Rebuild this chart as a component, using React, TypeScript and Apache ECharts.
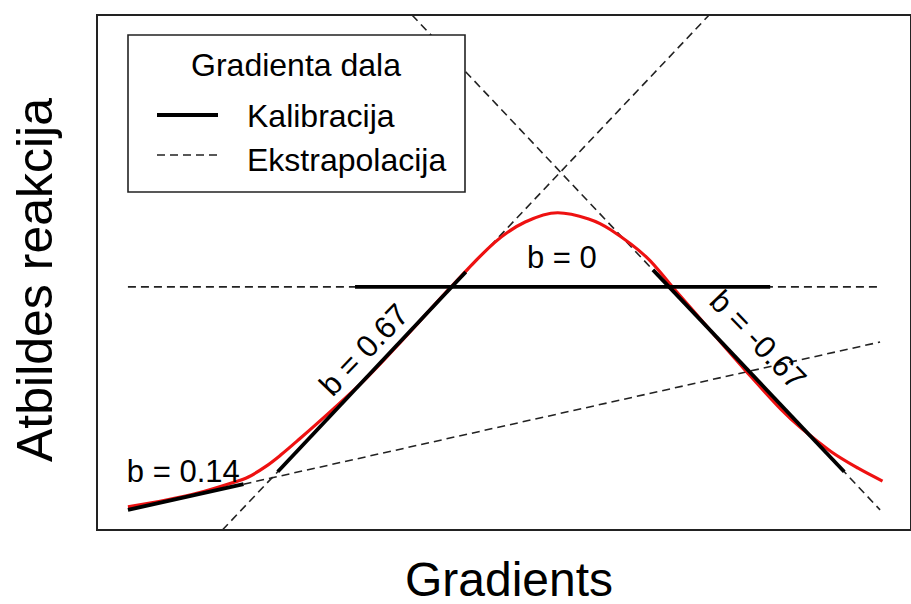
import React, { useEffect, useRef } from "react";
import * as echarts from "echarts";

// Response curve (red); axis units 0..10 on both axes
const curveX = [0.38, 0.85, 1.25, 1.65, 1.86, 2.07, 2.26, 2.46, 2.86, 3.31, 3.8, 4.35, 4.89, 5.26, 5.66, 6.04, 6.31, 6.75, 7.08, 7.56, 7.96, 8.41, 8.65, 9.02, 9.35, 9.65];
const curveY = [0.45, 0.58, 0.72, 0.91, 1.03, 1.23, 1.46, 1.73, 2.29, 2.95, 3.77, 4.72, 5.59, 5.98, 6.16, 6.04, 5.83, 5.3, 4.7, 3.83, 3.11, 2.33, 1.98, 1.52, 1.2, 0.95];

// Calibration segments (solid) and extrapolations (dashed): [x, y] pairs
const calib014 = [[0.38, 0.39], [1.8, 0.89]];
const extra014 = [[1.8, 0.89], [9.62, 3.65]];
const calib067 = [[2.22, 1.13], [4.53, 5.01]];
const extra067 = [[1.54, 0], [2.22, 1.13], [4.53, 5.01], [7.52, 10]];
const calib0 = [[3.17, 4.72], [8.27, 4.72]];
const extra0 = [[0.38, 4.72], [9.62, 4.72]];
const calibNeg067 = [[6.83, 5.05], [9.18, 1.13]];
const extraNeg067 = [[3.87, 10], [6.83, 5.05], [9.18, 1.13], [9.62, 0.39]];

// Slope labels: text, position (data units), rotation (deg)
const slopeLabels = ["b = 0.14", "b = 0.67", "b = 0", "b = -0.67"];
const slopeLabelPos = [[1.06, 1.13], [3.28, 3.5], [5.71, 5.3], [8.12, 3.69]];
const slopeLabelRot = [0, 46.2, 0, -46.2];

const legendTitle = "Gradienta dala";
const legendItems = ["Kalibracija", "Ekstrapolacija"];
const xTitle = "Gradients";
const yTitle = "Atbildes reakcija";

const FONT = "'Liberation Sans', Arial, Helvetica, sans-serif";
const DASH = [8, 5];

export default function App() {
  const ref = useRef<HTMLDivElement>(null);
  useEffect(() => {
    document.body.style.margin = "0";
    const chart = echarts.init(ref.current!, null, { renderer: "svg" });
    const dashed = (data: number[][]) => ({
      type: "line",
      data,
      showSymbol: false,
      symbol: "none",
      lineStyle: { color: "#222", width: 1.6, type: DASH },
      z: 2,
      silent: true,
    });
    const solid = (data: number[][]) => ({
      type: "line",
      data,
      showSymbol: false,
      symbol: "none",
      lineStyle: { color: "#000", width: 3.8 },
      z: 4,
      silent: true,
    });
    const txt = (text: string, x: number, y: number, size: number, align: string, rotation = 0) => ({
      type: "text",
      z: 101,
      x,
      y,
      rotation,
      style: { text, fontSize: size, fontFamily: FONT, fill: "#000", textAlign: align, textVerticalAlign: "middle" },
    });
    const baseGraphic: any[] = [
      {
        type: "rect",
        z: 100,
        shape: { x: 128, y: 35, width: 337, height: 157 },
        style: { fill: "#fff", stroke: "#222", lineWidth: 1.6 },
      },
      txt(legendTitle, 296, 65, 32, "center"),
      {
        type: "line",
        z: 101,
        shape: { x1: 157, y1: 115, x2: 218, y2: 115 },
        style: { stroke: "#000", lineWidth: 3.8 },
      },
      {
        type: "line",
        z: 101,
        shape: { x1: 157, y1: 155, x2: 218, y2: 155 },
        style: { stroke: "#222", lineWidth: 1.6, lineDash: DASH },
      },
      txt(legendItems[0], 247, 116, 32, "left"),
      txt(legendItems[1], 247, 160, 32, "left"),
      txt(xTitle, 509, 579, 48, "center"),
      txt(yTitle, 35, 280, 50, "center", Math.PI / 2),
    ];
    const option: any = {
      animation: false,
      backgroundColor: "#fff",
      grid: {
        left: 97,
        right: -10,
        top: 15,
        bottom: 74,
        show: true,
        borderColor: "#222",
        borderWidth: 2,
        backgroundColor: "transparent",
      },
      xAxis: {
        type: "value",
        min: 0,
        max: 10,
        axisLine: { show: false },
        axisTick: { show: false },
        axisLabel: { show: false },
        splitLine: { show: false },
      },
      yAxis: {
        type: "value",
        min: 0,
        max: 10,
        axisLine: { show: false },
        axisTick: { show: false },
        axisLabel: { show: false },
        splitLine: { show: false },
      },
      series: [
        dashed(extra014),
        dashed(extra067),
        dashed(extra0),
        dashed(extraNeg067),
        {
          type: "line",
          data: curveX.map((x, i) => [x, curveY[i]]),
          smooth: 0.35,
          showSymbol: false,
          symbol: "none",
          lineStyle: { color: "#ee1111", width: 3.2 },
          z: 3,
          silent: true,
        },
        solid(calib014),
        solid(calib067),
        solid(calib0),
        solid(calibNeg067),
      ],
      graphic: baseGraphic,
    };
    chart.setOption(option);
    const labelGraphic = slopeLabels.map((t, i) => {
      const p = chart.convertToPixel({ gridIndex: 0 }, slopeLabelPos[i]) as number[];
      return txt(t, p[0], p[1], 31, "center", (slopeLabelRot[i] * Math.PI) / 180);
    });
    chart.setOption({ graphic: [...baseGraphic, ...labelGraphic] }, { replaceMerge: ["graphic"] });
    return () => chart.dispose();
  }, []);
  return <div ref={ref} style={{ width: 911, height: 604 }} />;
}
